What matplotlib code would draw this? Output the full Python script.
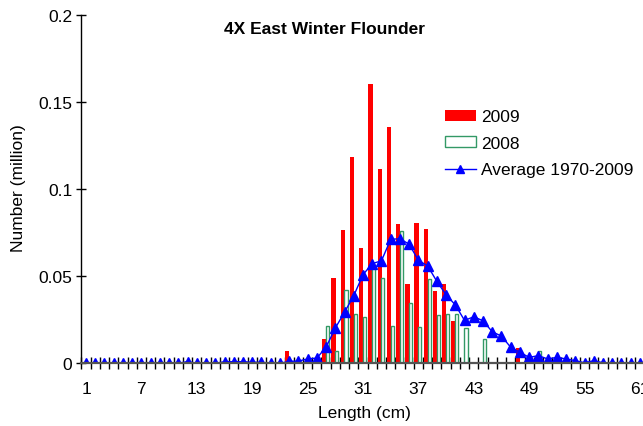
import matplotlib
matplotlib.use("Agg")
import matplotlib.pyplot as plt
from matplotlib.ticker import FixedLocator, FixedFormatter
from matplotlib.patches import Patch
from matplotlib.lines import Line2D
import numpy as np

plt.rcParams['font.family'] = ['Liberation Sans', 'DejaVu Sans']

lengths = list(range(1, 62))

# 2009 survey numbers (million) by length, non-zero entries
red_2009 = {23: 0.0069, 27: 0.0139, 28: 0.0489, 29: 0.0764, 30: 0.1183, 31: 0.0661,
            32: 0.1602, 33: 0.1114, 34: 0.1355, 35: 0.0797, 36: 0.0455, 37: 0.0804,
            38: 0.0770, 39: 0.0417, 40: 0.0455, 41: 0.0243, 48: 0.0088}
# 2008
green_2008 = {27: 0.0212, 28: 0.0069, 29: 0.0419, 30: 0.0281, 31: 0.0267, 32: 0.0546,
              33: 0.0487, 34: 0.0212, 35: 0.0757, 36: 0.0346, 37: 0.0211, 38: 0.0481,
              39: 0.0275, 40: 0.0281, 41: 0.0281, 42: 0.0203, 44: 0.0138, 50: 0.0069}
# Average 1970-2009
avg_vals = {12: 0.0010, 16: 0.0009, 17: 0.0009, 18: 0.0009, 19: 0.0006, 20: 0.0006,
            23: 0.0011, 24: 0.0013, 25: 0.0025, 26: 0.0030, 27: 0.0092, 28: 0.0202,
            29: 0.0293, 30: 0.0388, 31: 0.0508, 32: 0.0572, 33: 0.0588, 34: 0.0711,
            35: 0.0715, 36: 0.0683, 37: 0.0591, 38: 0.0559, 39: 0.0470, 40: 0.0393,
            41: 0.0335, 42: 0.0246, 43: 0.0267, 44: 0.0244, 45: 0.0181, 46: 0.0156,
            47: 0.0092, 48: 0.0063, 49: 0.0034, 50: 0.0044, 51: 0.0025, 52: 0.0034,
            53: 0.0025, 54: 0.0015, 55: 0.0003, 56: 0.0015, 57: 0.0003, 58: 0.0003,
            59: 0.0, 60: 0.0003, 61: 0.0}

series_2009 = [red_2009.get(c, 0.0) for c in lengths]
series_2008 = [green_2008.get(c, 0.0) for c in lengths]
series_avg = [avg_vals.get(c, 0.0) for c in lengths]

xtick_labels = [str(v) for v in range(1, 62, 6)]
ytick_vals = [0, 0.05, 0.1, 0.15, 0.2]
ytick_labels = ["0", "0.05", "0.1", "0.15", "0.2"]

W, H = 643, 427
fig = plt.figure(figsize=(W / 100, H / 100), dpi=100)
ax = fig.add_axes([81.4 / W, (H - 364.3) / H, 572.4 / W, (364.3 - 15.7) / H])

x = np.array(lengths, dtype=float)
r = np.array(series_2009)
g = np.array(series_2008)
m_r = r > 0
m_g = g > 0
ax.bar(x[m_r] - 0.19, r[m_r], width=0.46, color='#FF0000', edgecolor='none', zorder=2)
ax.bar(x[m_g] + 0.16, g[m_g], width=0.34, facecolor='white', edgecolor='#339966',
       linewidth=1.0, zorder=2.1)
ax.plot(x, series_avg, color='#0000FF', lw=1.0, marker='^', markersize=6.5,
        markeredgecolor='#0000FF', markerfacecolor='#0000FF', zorder=2.2)

ax.set_xlim(0.5, 62.5)
ax.set_ylim(0, 0.2)

for s in ['top', 'right']:
    ax.spines[s].set_visible(False)
ax.spines['left'].set_linewidth(1.0)
ax.spines['left'].set_color('black')
ax.spines['bottom'].set_linewidth(1.6)
ax.spines['bottom'].set_color('#555555')
ax.spines['bottom'].set_zorder(3)

ax.xaxis.set_major_locator(FixedLocator(list(range(1, 62, 6))))
ax.xaxis.set_major_formatter(FixedFormatter(xtick_labels))
ax.xaxis.set_minor_locator(FixedLocator([k + 0.5 for k in range(0, 63)]))
ax.tick_params(axis='x', which='major', length=0, pad=13, labelsize=12.5, colors='black')
ax.tick_params(axis='x', which='minor', direction='inout', length=8, width=1.0, color='black')

ax.yaxis.set_major_locator(FixedLocator(ytick_vals))
ax.yaxis.set_major_formatter(FixedFormatter(ytick_labels))
ax.tick_params(axis='y', which='major', direction='inout', length=7.5, width=1.0,
               pad=2.7, labelsize=12.5, colors='black')

fig.text(325 / W, 1 - 29 / H, "4X East Winter Flounder", ha='center', va='center',
         fontsize=12.5, fontweight='bold')
fig.text(364 / W, 1 - 414 / H, "Length (cm)", ha='center', va='center', fontsize=12.5)
fig.text(19 / W, 1 - 188 / H, "Number (million)", ha='center', va='center',
         rotation=90, fontsize=12.5)

handles = [Patch(facecolor='#FF0000', edgecolor='none'),
           Patch(facecolor='white', edgecolor='#339966', linewidth=1.0),
           Line2D([0], [0], color='#0000FF', lw=1.0, marker='^', markersize=5.5)]
leg = fig.legend(handles, ['2009', '2008', 'Average 1970-2009'], loc='upper left',
                 bbox_to_anchor=(445 / W, 1 - 110.5 / H), bbox_transform=fig.transFigure,
                 frameon=False, fontsize=12.5, borderpad=0, borderaxespad=0,
                 handlelength=1.76, handletextpad=0.3, labelspacing=0.66, handleheight=0.6)

fig.savefig('out.png', dpi=100)
